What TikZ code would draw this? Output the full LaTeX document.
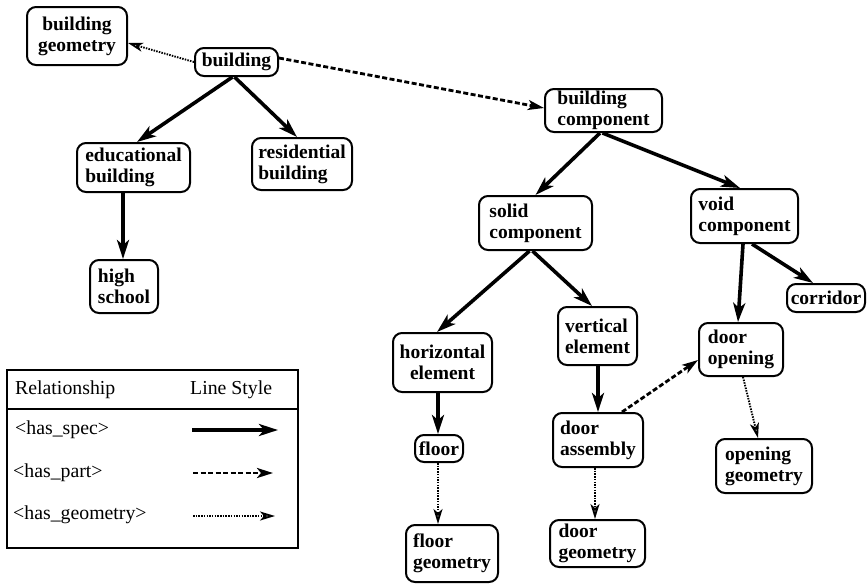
\documentclass[tikz,border=0pt]{standalone}
\usepackage{fontspec}
\setmainfont{Liberation Serif}
\usetikzlibrary{arrows.meta}
\begin{document}
\begin{tikzpicture}[x=1pt,y=-1pt,
  box/.style={draw,line width=2pt,rounded corners=9pt,inner sep=2pt,
    font=\bfseries\fontsize{19.5}{21}\selectfont,align=left},
  cbox/.style={box,align=center},
  spec/.style={line width=3.6pt,-{Stealth[length=19pt,width=12pt,inset=5pt]}},
  part/.style={line width=2.8pt,dash pattern=on 5pt off 2.5pt,-{Stealth[length=16pt,width=10pt,inset=4pt]}},
  geom/.style={line width=1.9pt,dash pattern=on 1.5pt off 1.2pt,-{Stealth[open,length=15pt,width=9pt,inset=4pt]}},
  legtext/.style={font=\fontsize{19.8}{22}\selectfont,anchor=west,inner sep=0pt}]
\useasboundingbox (0,0) rectangle (867,584);
% nodes
\node[cbox,minimum width=100pt,minimum height=58pt] (bgeo) at (77,36) {building\\geometry};
\node[box,minimum width=83pt,minimum height=28pt] (bldg) at (236.5,62) {building};
\node[box,minimum width=117pt,minimum height=43pt] (bcomp) at (603.5,110.5) {building\\component};
\node[box,minimum width=113pt,minimum height=49pt] (edu) at (133.5,167.5) {educational\\building};
\node[box,minimum width=100pt,minimum height=52pt] (res) at (302,164) {residential\\building};
\node[box,minimum width=68pt,minimum height=53pt] (hs) at (124,286.5) {high\\school};
\node[box,minimum width=113pt,minimum height=54pt] (solid) at (535.5,223) {solid\\component};
\node[box,minimum width=107pt,minimum height=54pt] (void) at (744.5,216) {void\\component};
\node[box,minimum width=78pt,minimum height=28pt] (corr) at (826,298) {corridor};
\node[cbox,minimum width=99pt,minimum height=59pt] (horiz) at (442.5,362.5) {horizontal\\element};
\node[box,minimum width=79pt,minimum height=58pt] (vert) at (597.5,336) {vertical\\element};
\node[box,minimum width=84pt,minimum height=53pt] (dopen) at (741,349.5) {door\\opening};
\node[box,minimum width=48pt,minimum height=27pt] (floor) at (439,448.5) {floor};
\node[box,minimum width=90pt,minimum height=54pt] (dass) at (598,440) {door\\assembly};
\node[box,minimum width=96pt,minimum height=54pt] (ogeo) at (764,466) {opening\\geometry};
\node[box,minimum width=92pt,minimum height=57pt] (fgeo) at (452,553.5) {floor\\geometry};
\node[box,minimum width=95pt,minimum height=47pt] (dgeo) at (597.5,543.5) {door\\geometry};
% edges
\draw[spec] ([xshift=-4pt]bldg.south) -- ([xshift=3.5pt]edu.north);
\draw[spec] ([xshift=-2pt]bldg.south) -- ([xshift=-5pt]res.north);
\draw[spec] ([xshift=-10.5pt]edu.south) -- ([xshift=-1pt]hs.north);
\draw[spec] ([xshift=-3.5pt]bcomp.south) -- (solid.north);
\draw[spec] ([xshift=-1pt]bcomp.south) -- ([xshift=-4.5pt]void.north);
\draw[spec] ([xshift=-6pt]solid.south) -- ([xshift=-5.5pt]horiz.north);
\draw[spec] ([xshift=-3pt]solid.south) -- ([xshift=-5.5pt]vert.north);
\draw[spec] ([xshift=-1.5pt]void.south) -- ([xshift=-3pt]dopen.north);
\draw[spec] ([xshift=7.5pt]void.south) -- ([xshift=-13pt]corr.north);
\draw[spec] ([xshift=-4.5pt]horiz.south) -- ([xshift=-1pt]floor.north);
\draw[spec] ([xshift=0.5pt]vert.south) -- (dass.north);
\draw[part] ([xshift=24pt]dass.north) -- ([yshift=-10.5pt]dopen.west);
\draw[part] ([yshift=4pt]bldg.east) -- ([yshift=2.5pt]bcomp.west);
\draw[geom] (bldg.west) -- ([yshift=-7pt]bgeo.east);
\draw[geom] ([xshift=-1pt]floor.south) -- ([xshift=-14pt]fgeo.north);
\draw[geom] ([xshift=-3pt]dass.south) -- ([xshift=-2.5pt]dgeo.north);
\draw[geom] ([xshift=2pt]dopen.south) -- ([xshift=-6pt]ogeo.north);
% legend
\node[draw,line width=2.2pt,minimum width=291pt,minimum height=178pt,inner sep=0pt] (leg) at (152.5,459) {};
\coordinate (hl) at (7,409);
\coordinate (hr) at (298,409);
\draw[line width=1.5pt] (hl) -- (hr);
\node[legtext] (lrel) at (15,390) {Relationship};
\node[legtext] (lsty) at (190,390) {Line Style};
\node[legtext] (lspec) at (15,430) {<has\_spec>};
\node[legtext] (lpart) at (13,473) {<has\_part>};
\node[legtext] (lgeom) at (13,515) {<has\_geometry>};
\coordinate (a1) at (192,430); \coordinate (b1) at (278,430);
\coordinate (a2) at (193,473); \coordinate (b2) at (273,473);
\coordinate (a3) at (193,516); \coordinate (b3) at (275,516);
\draw[spec] (a1) -- (b1);
\draw[part] (a2) -- (b2);
\draw[geom] (a3) -- (b3);
\end{tikzpicture}
\end{document}
